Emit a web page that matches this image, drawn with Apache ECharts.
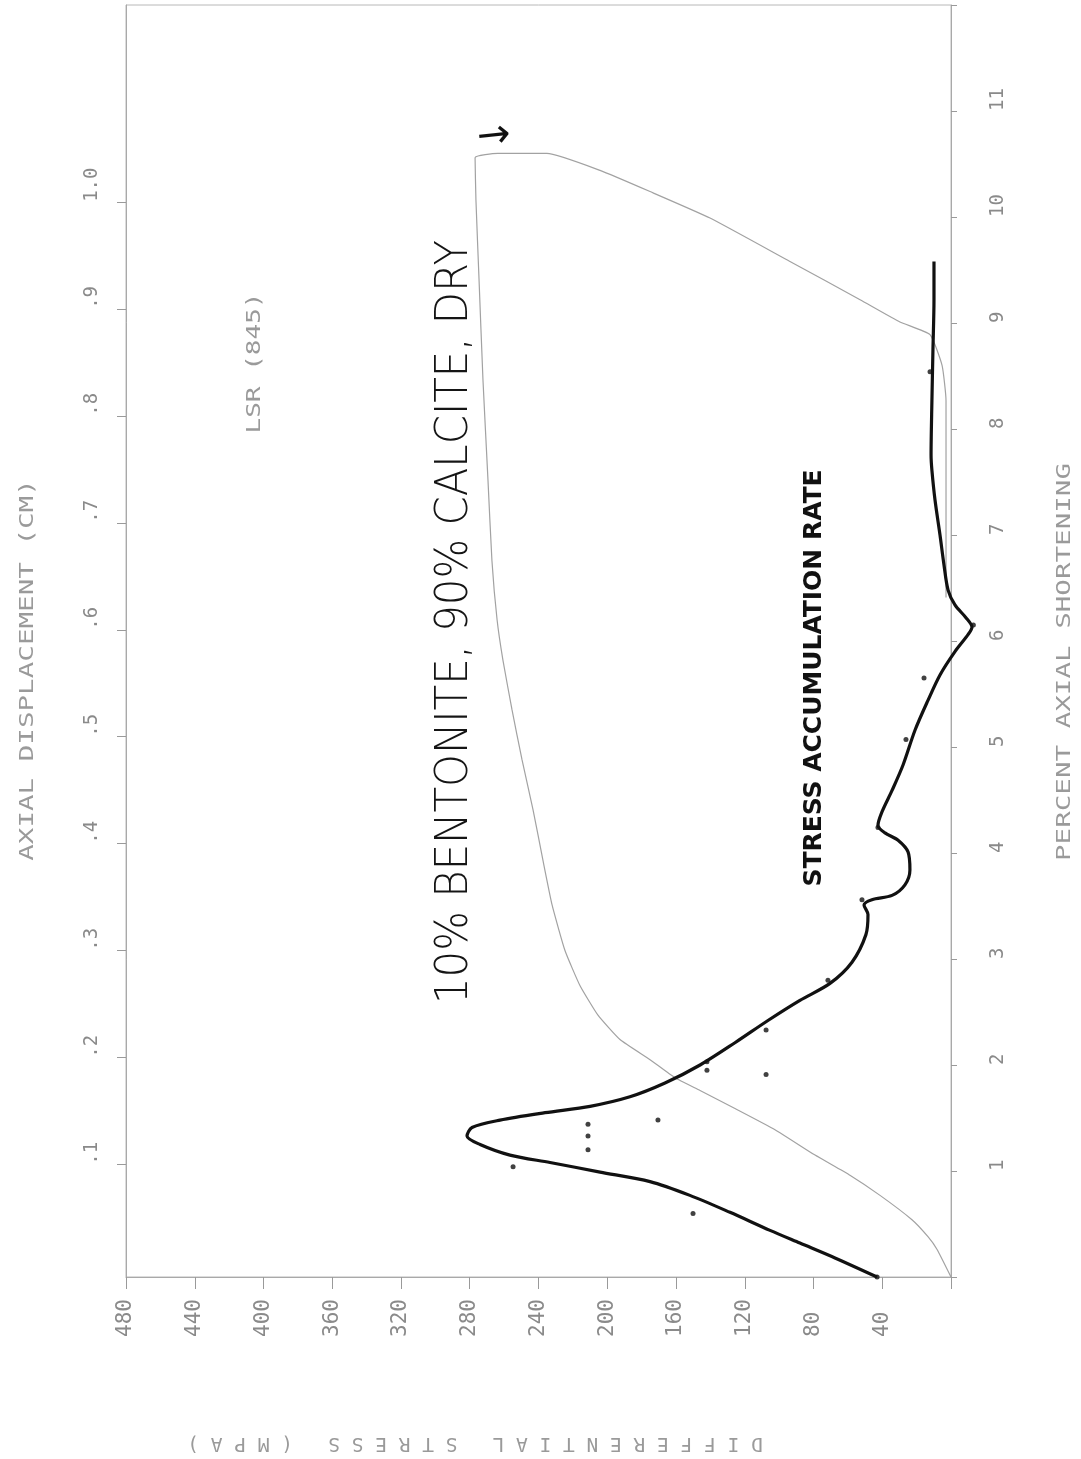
<!DOCTYPE html>
<html>
<head>
<meta charset="utf-8">
<script src="https://cdn.jsdelivr.net/npm/echarts@6/dist/echarts.min.js"></script>
<style>
  html, body { margin: 0; padding: 0; background: #ffffff; }
  #chart { width: 1081px; height: 1459px; }
</style>
</head>
<body>
<div id="chart"></div>
<script>
// Differential stress (MPa) against percent axial shortening, test LSR (845)
const stressTicks = [40, 80, 120, 160, 200, 240, 280, 320, 360, 400, 440, 480];
const shorteningTicks = [1, 2, 3, 4, 5, 6, 7, 8, 9, 10, 11];
const displacementTicks = [0.1, 0.2, 0.3, 0.4, 0.5, 0.6, 0.7, 0.8, 0.9, 1.0];

// stress-strain record (thin grey trace): loading, peak, unloading
const curveStress = [0, 8.1, 13.4, 22.7, 41.3, 58.8, 79.1, 102.4, 125.7, 146.0, 160.6, 175.1, 192.6, 205.4, 215.9, 224.6, 232.1, 237.4, 243.2, 249.6, 255.4, 260.7, 264.1, 267.1, 269.4, 272.3, 274.6, 276.4, 276.9, 263.6, 235.1, 204.2, 175.1, 140.2, 93.7, 52.9, 29.7, 12.2, 5.2, 2.9, 2.9];
const curveShortening = [0, 0.26, 0.38, 0.54, 0.77, 0.96, 1.15, 1.39, 1.59, 1.76, 1.88, 2.05, 2.24, 2.47, 2.75, 3.08, 3.51, 3.93, 4.41, 4.88, 5.35, 5.82, 6.20, 6.76, 7.52, 8.46, 9.41, 10.16, 10.56, 10.60, 10.60, 10.44, 10.24, 9.99, 9.58, 9.22, 9.01, 8.89, 8.60, 8.27, 6.41];

// stress accumulation rate (heavy hand-drawn curve); dips slightly below zero near 6 %
const rateValue = [43, 67.5, 87.9, 105.3, 128.6, 151.9, 175.1, 204.2, 233.3, 256.6, 274.0, 281.6, 278.7, 262.4, 236.2, 210.0, 186.8, 166.4, 146.0, 125.7, 106.5, 87.9, 70.4, 57.6, 49.5, 48.3, 50.6, 46.0, 34.3, 26.8, 23.9, 25.0, 30.8, 38.4, 42.5, 40.1, 34.3, 27.9, 20.9, 13.4, 6.4, -2.3, -9.9, -12.2, -8.7, -2.3, 1.7, 4.1, 6.4, 9.3, 11.1, 11.6, 11.1, 10.5, 9.9, 9.9];
const rateShortening = [0, 0.18, 0.32, 0.44, 0.61, 0.77, 0.90, 0.99, 1.08, 1.15, 1.25, 1.33, 1.41, 1.48, 1.55, 1.61, 1.70, 1.83, 2.00, 2.21, 2.42, 2.61, 2.77, 2.97, 3.23, 3.42, 3.51, 3.56, 3.60, 3.70, 3.84, 4.01, 4.12, 4.19, 4.26, 4.39, 4.59, 4.83, 5.16, 5.44, 5.68, 5.90, 6.06, 6.13, 6.22, 6.34, 6.48, 6.72, 7.00, 7.33, 7.61, 7.75, 8.27, 8.75, 9.22, 9.58];

// individual rate readings plotted as dots
const dotValue = [43, 150.1, 254.8, 211.2, 211.2, 211.2, 170.5, 142.0, 142.0, 107.6, 107.6, 71.6, 51.8, 42.5, 26.2, 15.7, -13.0, 12.2];
const dotShortening = [0, 0.60, 1.04, 1.44, 1.33, 1.20, 1.48, 2.03, 1.95, 2.33, 1.91, 2.80, 3.56, 4.24, 5.07, 5.65, 6.15, 8.54];

const zip = (a, b) => a.map((v, i) => [v, b[i]]);

const MONO = '"DejaVu Sans Mono", "Liberation Mono", monospace';
const AXIS_GREY = '#a9a9a9';
const LABEL_GREY = '#8a8a8a';

// plot frame in pixels and the stress scale (px per MPa)
const GRID = { left: 126, right: 130, top: 5, bottom: 182 };
const PX_PER_MPA = (1081 - GRID.left - GRID.right) / 480;
// the rate curve runs a little past zero stress, so it gets a twin grid
// with the same scale that reaches 20 MPa further right
const RATE_MIN = -20;

const chart = echarts.init(document.getElementById('chart'), null, { renderer: 'canvas' });

chart.setOption({
  backgroundColor: '#ffffff',
  animation: false,
  grid: [
    {
      left: GRID.left, right: GRID.right, top: GRID.top, bottom: GRID.bottom,
      show: true, borderColor: '#b8b8b8', borderWidth: 1,
      outerBoundsMode: 'none'
    },
    {
      left: GRID.left, right: GRID.right + RATE_MIN * PX_PER_MPA, top: GRID.top, bottom: GRID.bottom,
      show: false, outerBoundsMode: 'none'
    }
  ],
  xAxis: [
    {
      type: 'value',
      gridIndex: 0,
      inverse: true,
      position: 'bottom',
      min: 0, max: 480, interval: 40,
      splitLine: { show: false },
      axisLine: { show: true, lineStyle: { color: AXIS_GREY, width: 1 } },
      axisTick: { show: true, length: 12, lineStyle: { color: '#9a9a9a' } },
      axisLabel: {
        rotate: 90, align: 'left', verticalAlign: 'middle', margin: 60,
        color: LABEL_GREY, fontFamily: MONO, fontSize: 21,
        formatter: v => (stressTicks.indexOf(v) >= 0 ? String(v) : '')
      }
    },
    {
      type: 'value',
      gridIndex: 1,
      inverse: true,
      min: RATE_MIN, max: 480,
      show: false
    }
  ],
  yAxis: [
    {
      type: 'value',
      gridIndex: 0,
      position: 'right',
      min: 0, max: 12, interval: 1,
      splitLine: { show: false },
      axisLine: { show: true, lineStyle: { color: AXIS_GREY, width: 1 } },
      axisTick: { show: true, length: 6, lineStyle: { color: '#9a9a9a' } },
      axisLabel: {
        rotate: 90, align: 'left', verticalAlign: 'middle', margin: 47,
        color: LABEL_GREY, fontFamily: MONO, fontSize: 19,
        formatter: v => (shorteningTicks.indexOf(v) >= 0 ? String(v) : '')
      }
    },
    {
      type: 'value',
      gridIndex: 0,
      position: 'left',
      min: -0.005, max: 1.184,
      splitLine: { show: false },
      axisLine: { show: true, lineStyle: { color: AXIS_GREY, width: 1 } },
      axisTick: { show: true, length: 9, customValues: displacementTicks, lineStyle: { color: '#9a9a9a' } },
      axisLabel: {
        rotate: 90, align: 'left', verticalAlign: 'middle', margin: 34,
        customValues: displacementTicks,
        color: LABEL_GREY, fontFamily: MONO, fontSize: 19,
        formatter: v => (v >= 0.999 ? v.toFixed(1) : '.' + Math.round(v * 10))
      }
    },
    {
      type: 'value',
      gridIndex: 1,
      min: 0, max: 12,
      show: false
    }
  ],
  series: [
    {
      name: 'Differential stress',
      type: 'line',
      xAxisIndex: 0, yAxisIndex: 0,
      data: zip(curveStress, curveShortening),
      showSymbol: false,
      smooth: 0.15,
      clip: false,
      lineStyle: { color: '#a2a2a2', width: 1.2 },
      z: 2
    },
    {
      name: 'Stress accumulation rate',
      type: 'line',
      xAxisIndex: 1, yAxisIndex: 2,
      data: zip(rateValue, rateShortening),
      showSymbol: false,
      smooth: 0.3,
      clip: false,
      lineStyle: { color: '#111111', width: 3.2 },
      z: 3
    },
    {
      name: 'Rate readings',
      type: 'scatter',
      xAxisIndex: 1, yAxisIndex: 2,
      data: zip(dotValue, dotShortening),
      symbolSize: 5,
      clip: false,
      itemStyle: { color: '#111111' },
      z: 4
    }
  ],
  graphic: [
    {
      type: 'text', x: 28, y: 670, rotation: Math.PI / 2, scaleX: 1.45,
      style: { text: 'AXIAL DISPLACEMENT (CM)', fontFamily: MONO, fontSize: 19, fill: '#9a9a9a', align: 'center', verticalAlign: 'middle' }
    },
    {
      type: 'text', x: 1065, y: 662, rotation: Math.PI / 2, scaleX: 1.45,
      style: { text: 'PERCENT AXIAL SHORTENING', fontFamily: MONO, fontSize: 19, fill: '#9a9a9a', align: 'center', verticalAlign: 'middle' }
    },
    {
      type: 'text', x: 475, y: 1443, rotation: Math.PI,
      style: { text: 'DIFFERENTIAL STRESS (MPA)'.split('').join(' '), fontFamily: MONO, fontSize: 19.5, fill: '#9a9a9a', align: 'center', verticalAlign: 'middle' }
    },
    {
      type: 'text', x: 255, y: 363, rotation: Math.PI / 2, scaleX: 1.3,
      style: { text: 'LSR (845)', fontFamily: MONO, fontSize: 20, fill: '#9a9a9a', align: 'center', verticalAlign: 'middle' }
    },
    {
      type: 'text', x: 455, y: 622, rotation: Math.PI / 2, scaleX: 0.93,
      style: { text: '10% BENTONITE, 90% CALCITE, DRY', fontFamily: '"DejaVu Sans", sans-serif', fontWeight: 200, fontSize: 45, fill: '#151515', align: 'center', verticalAlign: 'middle' }
    },
    {
      type: 'text', x: 815, y: 678, rotation: Math.PI / 2, scaleX: 1.04,
      style: { text: 'STRESS ACCUMULATION RATE', fontFamily: '"DejaVu Sans", sans-serif', fontWeight: 'bold', fontSize: 24, fill: '#111111', align: 'center', verticalAlign: 'middle' }
    },
    {
      type: 'text', x: 494, y: 137, rotation: 0.1,
      style: { text: '\u2192', fontFamily: '"DejaVu Sans", sans-serif', fontSize: 40, fill: '#111111', align: 'center', verticalAlign: 'middle' }
    }
  ]
});
</script>
</body>
</html>
